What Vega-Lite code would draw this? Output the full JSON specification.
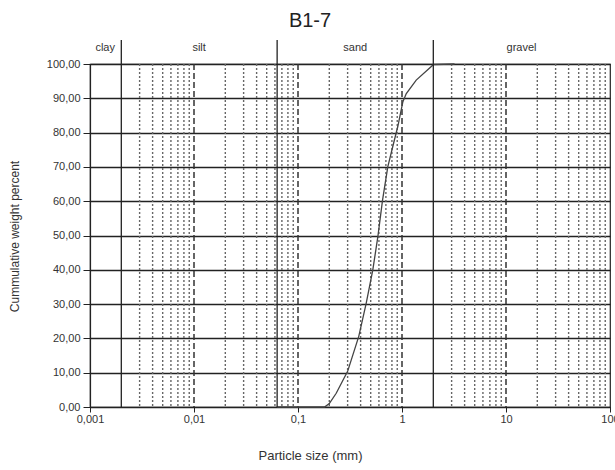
{
  "$schema": "https://vega.github.io/schema/vega-lite/v6.json",
  "autosize": "none",
  "width": 520,
  "height": 343,
  "padding": {"left": 90, "top": 64, "right": 5, "bottom": 63},
  "background": "white",
  "config": {
    "font": "Liberation Sans",
    "view": {"stroke": "#222", "strokeWidth": 1.2}
  },
  "title": {"text": "B1-7", "fontSize": 20, "font": "Liberation Sans", "fontWeight": "normal", "color": "#222", "dx": -40, "offset": 8},
  "datasets": {
    "minor": [
      {"x": 0.003}, {"x": 0.004}, {"x": 0.005}, {"x": 0.006}, {"x": 0.007}, {"x": 0.008}, {"x": 0.009},
      {"x": 0.02}, {"x": 0.03}, {"x": 0.04}, {"x": 0.05}, {"x": 0.06}, {"x": 0.07}, {"x": 0.08}, {"x": 0.09},
      {"x": 0.2}, {"x": 0.3}, {"x": 0.4}, {"x": 0.5}, {"x": 0.6}, {"x": 0.7}, {"x": 0.8}, {"x": 0.9},
      {"x": 3}, {"x": 4}, {"x": 5}, {"x": 6}, {"x": 7}, {"x": 8}, {"x": 9},
      {"x": 20}, {"x": 30}, {"x": 40}, {"x": 50}, {"x": 60}, {"x": 70}, {"x": 80}, {"x": 90}
    ],
    "decades": [{"x": 0.01}, {"x": 0.1}, {"x": 1}, {"x": 10}],
    "bounds": [{"x": 0.002}, {"x": 0.063}, {"x": 2}],
    "labels": [
      {"x": 0.0014, "name": "clay"},
      {"x": 0.0112, "name": "silt"},
      {"x": 0.355, "name": "sand"},
      {"x": 14.1, "name": "gravel"}
    ],
    "curve": [
      {"x": 0.063, "pct": 0},
      {"x": 0.18, "pct": 0},
      {"x": 0.2, "pct": 1},
      {"x": 0.233, "pct": 4},
      {"x": 0.3, "pct": 10.4},
      {"x": 0.384, "pct": 20.6},
      {"x": 0.453, "pct": 30.3},
      {"x": 0.524, "pct": 40},
      {"x": 0.585, "pct": 49.5},
      {"x": 0.65, "pct": 60.3},
      {"x": 0.73, "pct": 70},
      {"x": 0.83, "pct": 76.9},
      {"x": 0.91, "pct": 81.7},
      {"x": 1.02, "pct": 89},
      {"x": 1.1, "pct": 91.4},
      {"x": 1.37, "pct": 95.3},
      {"x": 2, "pct": 99.8},
      {"x": 3.2, "pct": 100}
    ]
  },
  "encoding": {
    "x": {
      "field": "x", "type": "quantitative",
      "scale": {"type": "log", "domain": [0.001, 100], "nice": false},
      "axis": {
        "values": [0.001, 0.01, 0.1, 1, 10, 100],
        "labelExpr": "replace(toString(datum.value), '.', ',')",
        "grid": false, "domainColor": "#222", "domainWidth": 1.2,
        "tickColor": "#222", "tickSize": 5, "labelFlush": false,
        "labelFontSize": 11, "labelColor": "#333", "labelPadding": 1, "labelOverlap": false,
        "title": "Particle size (mm)", "titleFontSize": 13, "titleFontWeight": "normal", "titleColor": "#333",
        "titleX": 220, "titleY": 48, "titleBaseline": "middle"
      }
    }
  },
  "layer": [
    {
      "data": {"name": "minor"},
      "mark": {"type": "rule", "color": "#666", "strokeWidth": 1.4, "strokeDash": [2, 2]}
    },
    {
      "data": {"name": "decades"},
      "mark": {"type": "rule", "color": "#333", "strokeWidth": 1.5, "strokeDash": [6, 3]}
    },
    {
      "data": {"name": "curve"},
      "mark": {"type": "line", "color": "#444", "strokeWidth": 1.3},
      "encoding": {
        "y": {
          "field": "pct", "type": "quantitative",
          "scale": {"domain": [0, 100], "nice": false},
          "axis": {
            "values": [0, 10, 20, 30, 40, 50, 60, 70, 80, 90, 100],
            "labelExpr": "replace(format(datum.value, '.2f'), '.', ',')",
            "grid": true, "gridColor": "#222", "gridWidth": 1.4, "gridOpacity": 1,
            "domainColor": "#222", "domainWidth": 1.2,
            "tickColor": "#222", "tickSize": 7, "labelOverlap": false,
            "labelFontSize": 11, "labelColor": "#333", "labelPadding": 3,
            "title": "Cummulative weight percent", "titleFontSize": 12, "titleFontWeight": "normal", "titleColor": "#333",
            "titleX": -76, "titleY": 172, "titleBaseline": "middle"
          }
        }
      }
    },
    {
      "data": {"name": "bounds"},
      "mark": {"type": "rule", "color": "#222", "strokeWidth": 1.3},
      "encoding": {
        "y": {"datum": 0, "type": "quantitative", "axis": {
            "values": [0, 10, 20, 30, 40, 50, 60, 70, 80, 90, 100],
            "labelExpr": "replace(format(datum.value, '.2f'), '.', ',')",
            "grid": true, "gridColor": "#222", "gridWidth": 1.4, "gridOpacity": 1,
            "domainColor": "#222", "domainWidth": 1.2,
            "tickColor": "#222", "tickSize": 7, "labelOverlap": false,
            "labelFontSize": 11, "labelColor": "#333", "labelPadding": 3,
            "title": "Cummulative weight percent", "titleFontSize": 12, "titleFontWeight": "normal", "titleColor": "#333",
            "titleX": -76, "titleY": 172, "titleBaseline": "middle"
          }},
        "y2": {"datum": 107}
      }
    },
    {
      "data": {"name": "labels"},
      "mark": {"type": "text", "fontSize": 11, "color": "#333", "baseline": "middle"},
      "encoding": {
        "y": {"datum": 104.6, "type": "quantitative", "axis": {
            "values": [0, 10, 20, 30, 40, 50, 60, 70, 80, 90, 100],
            "labelExpr": "replace(format(datum.value, '.2f'), '.', ',')",
            "grid": true, "gridColor": "#222", "gridWidth": 1.4, "gridOpacity": 1,
            "domainColor": "#222", "domainWidth": 1.2,
            "tickColor": "#222", "tickSize": 7, "labelOverlap": false,
            "labelFontSize": 11, "labelColor": "#333", "labelPadding": 3,
            "title": "Cummulative weight percent", "titleFontSize": 12, "titleFontWeight": "normal", "titleColor": "#333",
            "titleX": -76, "titleY": 172, "titleBaseline": "middle"
          }},
        "text": {"field": "name"}
      }
    }
  ]
}
